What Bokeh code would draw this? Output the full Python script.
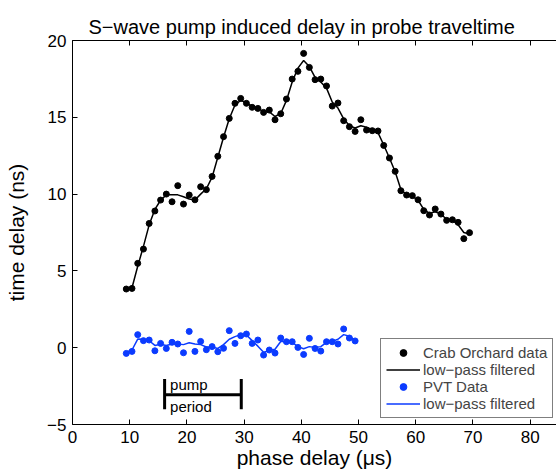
from bokeh.plotting import figure
from bokeh.models import Range1d, LinearAxis, FixedTicker, Legend, LegendItem
from bokeh.embed import file_html
from bokeh.resources import INLINE
from bokeh.core.properties import value

FONT = "Liberation Sans"

# ---- data ----
crab_x = [9.4, 10.4, 11.4, 12.4, 13.4, 14.4, 15.4, 16.4, 17.4, 18.4,
          19.4, 20.4, 21.4, 22.4, 23.4, 24.4, 25.4, 26.4, 27.4, 28.4,
          29.4, 30.4, 31.4, 32.4, 33.4, 34.4, 35.4, 36.4, 37.4, 38.4,
          39.4, 40.4, 41.4, 42.4, 43.4, 44.4, 45.4, 46.4, 47.4, 48.4,
          49.4, 50.4, 51.4, 52.4, 53.4, 54.4, 55.4, 56.4, 57.4, 58.4,
          59.4, 60.4, 61.4, 62.4, 63.4, 64.4, 65.4, 66.4, 67.4, 68.4,
          69.4]
crab_y = [3.82, 3.86, 5.49, 6.42, 8.09, 8.90, 9.61, 10.0, 9.5, 10.55,
          9.35, 9.94, 9.63, 10.48, 10.29, 11.15, 12.46, 13.74, 14.93, 15.91,
          16.23, 15.91, 15.65, 15.58, 15.32, 15.47, 14.84, 15.23, 16.19, 17.49,
          17.99, 19.16, 18.25, 17.45, 17.49, 17.04, 15.73, 15.93, 14.78, 14.39,
          14.08, 14.84, 14.17, 14.13, 14.11, 13.17, 12.35, 11.48, 10.22, 9.94,
          9.90, 9.63, 8.92, 8.64, 9.03, 8.70, 8.29, 8.33, 8.16, 7.10,
          7.49]
crab_filt = [3.8, 3.9, 5.3, 6.6, 8.0, 9.0, 9.6, 9.95, 9.95, 9.95,
             9.83, 9.68, 9.62, 10.0, 10.35, 11.1, 12.4, 13.7, 14.9, 15.8,
             16.1, 15.95, 15.7, 15.55, 15.4, 15.35, 15.05, 15.25, 16.1, 17.3,
             18.2, 18.7, 18.3, 17.6, 17.3, 16.9, 16.0, 15.6, 14.9, 14.45,
             14.3, 14.45, 14.35, 14.2, 14.0, 13.2, 12.35, 11.45, 10.3, 9.95,
             9.85, 9.6, 9.0, 8.75, 8.85, 8.7, 8.35, 8.3, 8.0, 7.5,
             7.4]

pvt_x = [9.4, 10.4, 11.4, 12.4, 13.4, 14.4, 15.4, 16.4, 17.4, 18.4,
         19.4, 20.4, 21.4, 22.4, 23.4, 24.4, 25.4, 26.4, 27.4, 28.4,
         29.4, 30.4, 31.4, 32.4, 33.4, 34.4, 35.4, 36.4, 37.4, 38.4,
         39.4, 40.4, 41.4, 42.4, 43.4, 44.4, 45.4, 46.4, 47.4, 48.4,
         49.4]
pvt_y = [-0.37, -0.24, 0.85, 0.46, 0.50, -0.20, 0.28, -0.05, 0.35, 0.24,
         -0.33, 1.06, -0.24, 0.41, -0.13, 0.07, -0.26, -0.04, 1.11, 0.28,
         0.78, 0.89, 0.28, 0.50, -0.48, -0.15, -0.35, 0.63, 0.39, 0.39,
         0.02, -0.44, 0.61, -0.05, -0.22, 0.39, 0.39, 0.24, 1.22, 0.63,
         0.44]
pvt_filt = [-0.3, -0.15, 0.56, 0.55, 0.45, 0.15, 0.22, 0.15, 0.24, 0.24,
            0.2, 0.32, 0.24, 0.2, 0.05, 0.05, -0.05, 0.2, 0.55, 0.72,
            0.85, 0.83, 0.46, 0.1, -0.3, -0.2, -0.1, 0.4, 0.4, 0.35,
            0.07, -0.07, 0.07, 0.02, 0.07, 0.35, 0.41, 0.55, 0.85, 0.75,
            0.45]

pump_period = [16.1, 29.5]         # start / end of pump period (µs)
pump_bar_y = [-2.04, -3.06, -4.0]  # top, middle, bottom of the bracket
pump_text = ["pump", "period"]
pump_text_x = [17.05, 17.05]
pump_text_y = [-2.41, -3.84]

x_ticks = [0, 10, 20, 30, 40, 50, 60, 70, 80]
y_ticks = [-5, 0, 5, 10, 15, 20]

BLUE = "#0b3bff"

p = figure(width=556, height=476, output_backend="svg", toolbar_location=None,
           x_range=Range1d(0, 84.6), y_range=Range1d(-5, 20),
           min_border_left=72, min_border_right=0, min_border_top=40,
           min_border_bottom=52, x_axis_location=None, y_axis_location=None)
p.grid.visible = False
p.outline_line_color = None
p.background_fill_color = "white"
p.border_fill_color = "white"


def style_axis(ax):
    ax.axis_line_color = "black"
    ax.axis_line_width = 1
    ax.major_tick_in = 5
    ax.major_tick_out = 0
    ax.minor_tick_line_color = None
    ax.major_tick_line_color = "black"
    ax.major_label_text_font = FONT
    ax.major_label_text_color = "black"
    ax.major_label_text_font_size = "17px"
    ax.axis_label_text_font = FONT
    ax.axis_label_text_font_style = "normal"
    ax.axis_label_text_color = "black"
    ax.axis_label_text_font_size = "21px"


ax_b = LinearAxis(ticker=FixedTicker(ticks=x_ticks), axis_label="phase delay (μs)")
style_axis(ax_b)
ax_b.major_label_standoff = 6
ax_b.axis_label_standoff = 0
p.add_layout(ax_b, "below")

ax_l = LinearAxis(ticker=FixedTicker(ticks=y_ticks), axis_label="time delay (ns)")
style_axis(ax_l)
ax_l.major_label_standoff = 6
ax_l.axis_label_standoff = 16
ax_l.major_label_overrides = {-5: "−5"}
p.add_layout(ax_l, "left")

ax_t = LinearAxis(ticker=FixedTicker(ticks=x_ticks))
style_axis(ax_t)
ax_t.major_label_overrides = {t: "" for t in x_ticks}
ax_t.major_label_standoff = 0
p.add_layout(ax_t, "above")

p.title.text = "S−wave pump induced delay in probe traveltime"
p.title.text_font = FONT
p.title.text_font_size = "20px"
p.title.text_font_style = "normal"
p.title.text_color = "black"
p.title.align = "left"
p.title.offset = 16
p.title.standoff = 6

# data
r_cl = p.line(crab_x, crab_filt, line_color="black", line_width=1.5)
r_cd = p.scatter(crab_x, crab_y, size=6, marker="circle", fill_color="black", line_color="black")
r_pl = p.line(pvt_x, pvt_filt, line_color=BLUE, line_width=1.5)
r_pd = p.scatter(pvt_x, pvt_y, size=6, marker="circle", fill_color=BLUE, line_color=BLUE)

# pump period bracket
p.segment(x0=[pump_period[0], pump_period[1], pump_period[0]],
          y0=[pump_bar_y[0], pump_bar_y[0], pump_bar_y[1]],
          x1=[pump_period[0], pump_period[1], pump_period[1]],
          y1=[pump_bar_y[2], pump_bar_y[2], pump_bar_y[1]],
          line_color="black", line_width=3, line_cap="butt")
p.text(x=pump_text_x, y=pump_text_y, text=pump_text, text_font=value(FONT),
       text_font_size="15px", text_color="black", text_baseline="alphabetic",
       text_align="left")

legend = Legend(items=[
    LegendItem(label="Crab Orchard data", renderers=[r_cd]),
    LegendItem(label="low−pass filtered", renderers=[r_cl]),
    LegendItem(label="PVT Data", renderers=[r_pd]),
    LegendItem(label="low−pass filtered", renderers=[r_pl]),
], location=(308, 6), margin=0, padding=5, spacing=0,
   label_height=17, glyph_height=17, glyph_width=34, label_standoff=3,
   label_text_font=FONT, label_text_font_size="15px",
   border_line_color="black", border_line_width=1,
   background_fill_color="white", background_fill_alpha=1)
p.add_layout(legend)

open("out.html", "w").write(file_html(p, INLINE))
